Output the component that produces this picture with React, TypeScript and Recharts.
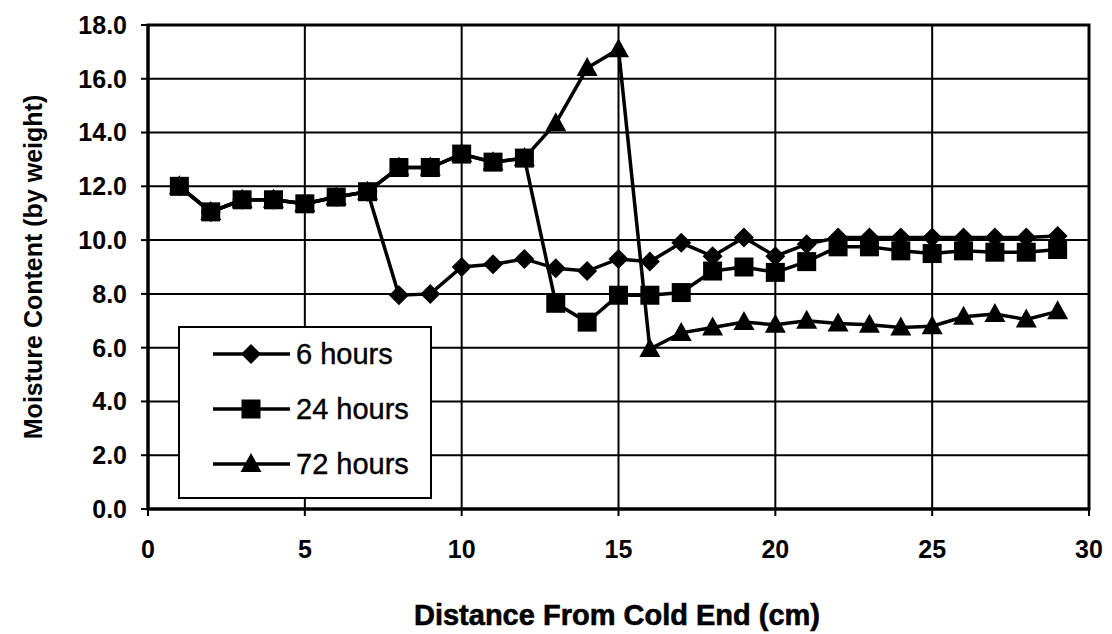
import {
  LineChart,
  Line,
  XAxis,
  YAxis,
  CartesianGrid,
  Legend,
  ReferenceArea,
  Label,
} from "recharts";

// distance from the cold end (cm)
const DISTANCE = [
  1, 2, 3, 4, 5, 6, 7, 8, 9, 10, 11, 12, 13, 14, 15, 16, 17, 18, 19, 20, 21,
  22, 23, 24, 25, 26, 27, 28, 29,
];

// moisture content (by weight) for each soak time
const SIX_HOURS = [
  12.0, 11.05, 11.5, 11.5, 11.35, 11.6, 11.8, 7.95, 8.0, 9.0, 9.1, 9.3, 8.95,
  8.85, 9.3, 9.2, 9.9, 9.4, 10.1, 9.4, 9.85, 10.1, 10.1, 10.1, 10.1, 10.1, 10.1,
  10.1, 10.15,
];
const TWENTY_FOUR_HOURS = [
  12.0, 11.05, 11.5, 11.5, 11.35, 11.6, 11.8, 12.7, 12.7, 13.2, 12.9, 13.05,
  7.65, 6.95, 7.95, 7.95, 8.05, 8.85, 9.0, 8.8, 9.2, 9.75, 9.75, 9.6, 9.5, 9.6,
  9.55, 9.55, 9.65,
];
const SEVENTY_TWO_HOURS = [
  12.0, 11.05, 11.5, 11.5, 11.35, 11.6, 11.8, 12.7, 12.7, 13.2, 12.9, 13.05,
  14.35, 16.4, 17.1, 5.95, 6.55, 6.75, 6.95, 6.85, 7.0, 6.9, 6.85, 6.75, 6.8,
  7.15, 7.25, 7.05, 7.35,
];

const X_TICKS = [0, 5, 10, 15, 20, 25, 30];
const Y_TICKS = [0, 2, 4, 6, 8, 10, 12, 14, 16, 18];

const LEGEND_ORDER = ["6 hours", "24 hours", "72 hours"];

const data = DISTANCE.map((d, i) => ({
  x: d,
  h6: SIX_HOURS[i],
  h24: TWENTY_FOUR_HOURS[i],
  h72: SEVENTY_TWO_HOURS[i],
}));

const FONT = "'Liberation Sans', Arial, Helvetica, sans-serif";

type Shape = "diamond" | "square" | "triangle";

function Marker({ cx, cy, shape }: { cx: number; cy: number; shape: Shape }) {
  if (shape === "diamond") {
    const r = 10;
    return (
      <polygon
        points={`${cx},${cy - r} ${cx + r},${cy} ${cx},${cy + r} ${cx - r},${cy}`}
        fill="#000"
      />
    );
  }
  if (shape === "square") {
    return <rect x={cx - 9.5} y={cy - 9.5} width={19} height={19} fill="#000" />;
  }
  return (
    <polygon
      points={`${cx},${cy - 11} ${cx + 10.5},${cy + 8} ${cx - 10.5},${cy + 8}`}
      fill="#000"
    />
  );
}

const dotFor = (shape: Shape) => (props: any) => {
  const { cx, cy, index } = props;
  if (cx == null || cy == null) return <g key={`${shape}-${index}`} />;
  return (
    <g key={`${shape}-${index}`}>
      <Marker cx={cx} cy={cy} shape={shape} />
    </g>
  );
};

const SHAPES: Record<string, Shape> = {
  "6 hours": "diamond",
  "24 hours": "square",
  "72 hours": "triangle",
};

function LegendBox(props: any) {
  const items = [...(props.payload || [])].sort(
    (a: any, b: any) =>
      LEGEND_ORDER.indexOf(a.value) - LEGEND_ORDER.indexOf(b.value)
  );
  return (
    <div
      style={{
        width: 250,
        height: 169,
        border: "2px solid #000",
        background: "#fff",
        boxSizing: "content-box",
      }}
    >
      {items.map((entry: any, i: number) => (
        <div
          key={`legend-${i}`}
          style={{
            position: "absolute",
            left: 0,
            top: 9 + i * 55,
            height: 38,
            display: "flex",
            alignItems: "center",
          }}
        >
          <svg width={120} height={38} style={{ display: "block" }}>
            <line x1={35} x2={112} y1={19} y2={19} stroke="#000" strokeWidth={3.5} />
            <Marker cx={73} cy={19} shape={SHAPES[entry.value]} />
          </svg>
          <span
            style={{
              fontFamily: FONT,
              fontSize: 29,
              color: "#000",
              marginLeft: -2,
              whiteSpace: "nowrap",
              WebkitTextStroke: "0.4px #000",
            }}
          >
            {entry.value}
          </span>
        </div>
      ))}
    </div>
  );
}

const tickStyle = {
  fill: "#000",
  fontSize: 25,
  fontWeight: "bold",
  fontFamily: FONT,
};

export default function App() {
  return (
    <div style={{ position: "absolute", left: 0, top: 0, background: "#fff" }}>
      <LineChart
        width={1112}
        height={634}
        data={data}
        margin={{ top: 25, right: 23, bottom: 55, left: 10 }}
      >
        <CartesianGrid stroke="#000" strokeWidth={2} />
        <ReferenceArea
          x1={0}
          x2={30}
          y1={0}
          y2={18}
          fill="none"
          stroke="#000"
          strokeWidth={3}
          fillOpacity={0}
        />
        <XAxis
          type="number"
          dataKey="x"
          domain={[0, 30]}
          ticks={X_TICKS}
          height={70}
          axisLine={{ stroke: "#000", strokeWidth: 3 }}
          tickLine={{ stroke: "#000", strokeWidth: 2 }}
          tickSize={7}
          tickMargin={24}
          tick={tickStyle}
        >
          <Label
            content={() => (
              <text
                x={617}
                y={625}
                textAnchor="middle"
                fontFamily={FONT}
                fontWeight="bold"
                fontSize={29}
                fill="#000"
                stroke="#000"
                strokeWidth={0.6}
              >
                Distance From Cold End (cm)
              </text>
            )}
          />
        </XAxis>
        <YAxis
          type="number"
          domain={[0, 18]}
          ticks={Y_TICKS}
          width={138}
          axisLine={{ stroke: "#000", strokeWidth: 3 }}
          tickLine={{ stroke: "#000", strokeWidth: 2 }}
          tickSize={7}
          tickMargin={14}
          tickFormatter={(v: number) => v.toFixed(1)}
          tick={tickStyle}
        >
          <Label
            content={() => (
              <text
                x={33}
                y={267}
                transform="rotate(-90, 33, 267)"
                textAnchor="middle"
                dominantBaseline="central"
                fontFamily={FONT}
                fontWeight="bold"
                fontSize={25}
                fill="#000"
              >
                Moisture Content (by weight)
              </text>
            )}
          />
        </YAxis>
        <Line
          name="72 hours"
          dataKey="h72"
          stroke="#000"
          strokeWidth={3.5}
          dot={dotFor("triangle")}
          activeDot={false}
          isAnimationActive={false}
        />
        <Line
          name="6 hours"
          dataKey="h6"
          stroke="#000"
          strokeWidth={3.5}
          dot={dotFor("diamond")}
          activeDot={false}
          isAnimationActive={false}
        />
        <Line
          name="24 hours"
          dataKey="h24"
          stroke="#000"
          strokeWidth={3.5}
          dot={dotFor("square")}
          activeDot={false}
          isAnimationActive={false}
        />
        <Legend
          layout="vertical"
          align="center"
          verticalAlign="middle"
          content={<LegendBox />}
          wrapperStyle={{ left: 178, top: 326, width: 254, height: 173, margin: 0 }}
        />
      </LineChart>
    </div>
  );
}
